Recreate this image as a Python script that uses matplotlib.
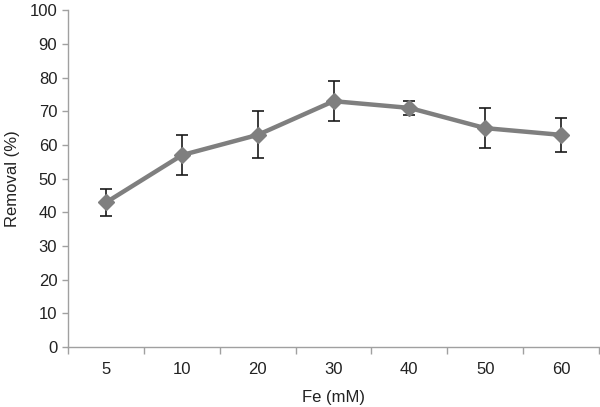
import matplotlib
matplotlib.use("Agg")
import matplotlib.pyplot as plt
import numpy as np

plt.rcParams['font.family'] = ['Liberation Sans', 'DejaVu Sans']

categories = ["5", "10", "20", "30", "40", "50", "60"]
removal = [43, 57, 63, 73, 71, 65, 63]
err = [4, 6, 7, 6, 2, 6, 5]
yticks = [0, 10, 20, 30, 40, 50, 60, 70, 80, 90, 100]

fig = plt.figure(figsize=(6.0, 4.07), dpi=100)
ax = fig.add_axes([0.114, 0.147, 0.884, 0.828])

x = np.arange(len(categories))
ax.errorbar(x, removal, yerr=err, fmt='none', ecolor='#1a1a1a', elinewidth=1.2,
            capsize=4, capthick=1.2, zorder=2)
ax.plot(x, removal, color='#7f7f7f', lw=3.2, marker='D', markersize=8.5,
        markerfacecolor='#7f7f7f', markeredgecolor='#7f7f7f', zorder=3)

ax.set_xlim(-0.5, len(categories) - 0.5)
ax.set_ylim(0, 100)
ax.set_yticks(yticks)
ax.set_yticklabels([str(v) for v in yticks])
ax.set_xticks(x)
ax.set_xticklabels(categories)
ax.set_xticks(np.arange(len(categories) + 1) - 0.5, minor=True)
ax.tick_params(axis='x', which='major', length=0, labelsize=12, pad=11, colors='#222222')
ax.tick_params(axis='x', which='minor', length=5, color='#a0a0a0', width=1, direction='out')
ax.tick_params(axis='y', which='major', length=4, color='#a0a0a0', width=1, labelsize=12,
               labelcolor='#222222', pad=4)

for s in ['top', 'right']:
    ax.spines[s].set_visible(False)
for s in ['left', 'bottom']:
    ax.spines[s].set_color('#a0a0a0')
    ax.spines[s].set_linewidth(1)

ax.set_xlabel('Fe (mM)', fontsize=12, color='#222222', labelpad=9)
ax.set_ylabel('Removal (%)', fontsize=12, color='#222222', labelpad=7)

fig.savefig('out.png', dpi=100)
